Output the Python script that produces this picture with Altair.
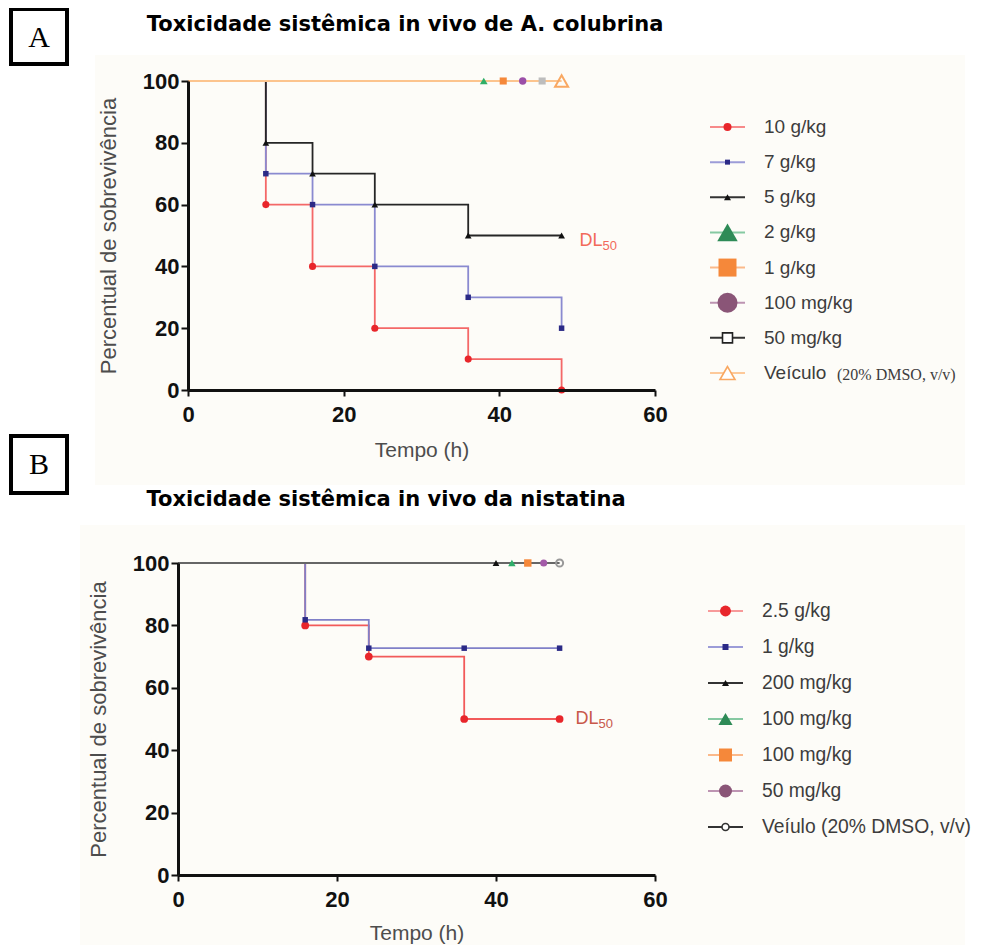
import altair as alt
import pandas as pd

# ---------------- data ----------------
A_TITLE = "Toxicidade sistêmica in vivo de A. colubrina"
A_LABELS = ["10 g/kg", "7 g/kg", "5 g/kg", "2 g/kg", "1 g/kg", "100 mg/kg", "50 mg/kg", "Veículo"]
A_LABEL_SUFFIX = "(20% DMSO, v/v)"
A_TIMES = [
    [0, 10, 16, 24, 36, 48],   # 10 g/kg
    [0, 10, 16, 24, 36, 48],   # 7 g/kg
    [0, 10, 16, 24, 36, 48],   # 5 g/kg
    [0, 38],                   # 2 g/kg
    [0, 40.5],                 # 1 g/kg
    [0, 43],                   # 100 mg/kg
    [0, 45.5],                 # 50 mg/kg
    [0, 48],                   # Veículo
]
A_SURV = [
    [100, 60, 40, 20, 10, 0],
    [100, 70, 60, 40, 30, 20],
    [100, 80, 70, 60, 50, 50],
    [100, 100],
    [100, 100],
    [100, 100],
    [100, 100],
    [100, 100],
]

B_TITLE = "Toxicidade sistêmica in vivo da nistatina"
B_LABELS = ["2.5 g/kg", "1 g/kg", "200 mg/kg", "100 mg/kg", "100 mg/kg", "50 mg/kg",
            "Veíulo (20% DMSO, v/v)"]
B_TIMES = [
    [0, 16, 24, 36, 48],       # 2.5 g/kg
    [0, 16, 24, 36, 48],       # 1 g/kg
    [0, 40],                   # 200 mg/kg
    [0, 42],                   # 100 mg/kg
    [0, 44],                   # 100 mg/kg
    [0, 46],                   # 50 mg/kg
    [0, 48],                   # Veículo
]
B_SURV = [
    [100, 80, 70, 50, 50],
    [100, 81.8, 72.7, 72.7, 72.7],
    [100, 100],
    [100, 100],
    [100, 100],
    [100, 100],
    [100, 100],
]

X_TICKS = [0, 20, 40, 60]
Y_TICKS = [0, 20, 40, 60, 80, 100]
DL50_T = 48
DL50_S = 50
PANEL_A = "A"
PANEL_B = "B"
X_TITLE = "Tempo (h)"
Y_TITLE = "Percentual de sobrevivência"

# ---------------- styles ----------------
W, H = 967, 939
SANS = "Liberation Sans"

A_STYLE = [
    dict(line="#f46868", mk="#e8262b", open=False, shape="circle", size=50,
         lline="#f78a8a", lmk="#e8262b", lopen=False, lsize=64),
    dict(line="#8a8ad0", mk="#2b2a86", open=False, shape="square", size=30,
         lline="#9c9cd8", lmk="#2b2a86", lopen=False, lsize=25),
    dict(line="#262626", mk="#111111", open=False, shape="triangle-up", size=45,
         lline="#333333", lmk="#111111", lopen=False, lsize=49),
    dict(line="#fcc48e", mk="#2fae66", open=False, shape="triangle-up", size=60,
         lline="#86c9a2", lmk="#2e8b57", lopen=False, lsize=420),
    dict(line="#fcc48e", mk="#f5883a", open=False, shape="square", size=50,
         lline="#fbb98a", lmk="#f5883a", lopen=False, lsize=324),
    dict(line="#fcc48e", mk="#9b4fa8", open=False, shape="circle", size=55,
         lline="#bd94b2", lmk="#8a5577", lopen=False, lsize=400),
    dict(line="#fcc48e", mk="#bdbdbd", open=False, shape="square", size=50,
         lline="#333333", lmk="#222222", lopen=True, lsize=100),
    dict(line="#fcc48e", mk="#f9a862", open=True, shape="triangle-up", size=170,
         lline="#fdc99a", lmk="#f9a862", lopen=True, lsize=225),
]

B_STYLE = [
    dict(line="#f25a5a", mk="#e8262b", open=False, shape="circle", size=60,
         lline="#f79a9a", lmk="#e8262b", lopen=False, lsize=120),
    dict(line="#8080c8", mk="#2b2a86", open=False, shape="square", size=30,
         lline="#9c9cd8", lmk="#2b2a86", lopen=False, lsize=36),
    dict(line="#666666", mk="#111111", open=False, shape="triangle-up", size=45,
         lline="#333333", lmk="#111111", lopen=False, lsize=49),
    dict(line="#666666", mk="#2fae6a", open=False, shape="triangle-up", size=55,
         lline="#86c9a2", lmk="#2e8b57", lopen=False, lsize=200),
    dict(line="#666666", mk="#f5883a", open=False, shape="square", size=55,
         lline="#fbb98a", lmk="#f5883a", lopen=False, lsize=169),
    dict(line="#666666", mk="#a35aa8", open=False, shape="circle", size=50,
         lline="#bd94b2", lmk="#8a5577", lopen=False, lsize=169),
    dict(line="#666666", mk="#999999", open=True, shape="circle", size=50,
         lline="#333333", lmk="#333333", lopen=True, lsize=49),
]


def x_axis(offset, title_pad):
    return alt.Axis(orient="bottom", offset=offset, values=X_TICKS, grid=False, zindex=2,
                    domainColor="#111", domainWidth=3, tickColor="#111", tickWidth=2,
                    tickSize=6, labelFont=SANS, labelFontSize=22, labelFontWeight="bold",
                    labelColor="#111", labelPadding=8, labelFlush=False,
                    title=X_TITLE, titleFont=SANS, titleFontSize=21, titleFontWeight="normal",
                    titleColor="#4d4d4d", titlePadding=title_pad)


def y_axis(offset):
    return alt.Axis(orient="left", offset=offset, values=Y_TICKS, grid=False, zindex=2,
                    domainColor="#111", domainWidth=3, tickColor="#111", tickWidth=2,
                    tickSize=7, labelFont=SANS, labelFontSize=22, labelFontWeight="bold",
                    labelColor="#111", labelPadding=2, labelFlush=False,
                    title=Y_TITLE, titleFont=SANS, titleFontSize=22, titleFontWeight="normal",
                    titleColor="#4d4d4d", titlePadding=22)


def panel(times, surv, styles, xr, yr, xoff, yoff, title_pad):
    xe = alt.X("t:Q", scale=alt.Scale(domain=[0, 60], range=xr), axis=x_axis(xoff, title_pad))
    ye = alt.Y("s:Q", scale=alt.Scale(domain=[0, 100], range=yr), axis=y_axis(yoff))
    lines, points = [], []
    for t, s, st in zip(times, surv, styles):
        df = pd.DataFrame({"t": t, "s": s})
        lines.append(alt.Chart(df).mark_line(interpolate="step-after", color=st["line"],
                                             strokeWidth=1.8).encode(x=xe, y=ye))
        points.append(alt.Chart(df.iloc[1:]).mark_point(
            shape=st["shape"], size=st["size"], filled=not st["open"], color=st["mk"],
            strokeWidth=2 if st["open"] else 1, opacity=1).encode(x=xe, y=ye))
    return lines, points, xe, ye


def legend(labels, styles, xr, yr, text_dx, font_size):
    n = len(labels)
    xe = alt.X("lx:Q", scale=alt.Scale(domain=[0, 1], range=xr), axis=None)
    x2e = alt.X2("lx2:Q")
    ye = alt.Y("row:Q", scale=alt.Scale(domain=[0, n - 1], range=yr), axis=None)
    out = []
    for i, (lab, st) in enumerate(zip(labels, styles)):
        df = pd.DataFrame({"row": [i], "lx": [0.0], "lx2": [1.0], "mx": [0.5], "label": [lab]})
        out.append(alt.Chart(df).mark_rule(color=st["lline"], strokeWidth=2).encode(
            x=xe, x2=x2e, y=ye))
        out.append(alt.Chart(df).mark_point(
            shape=st["shape"], size=st["lsize"], filled=not st["lopen"], color=st["lmk"],
            strokeWidth=1.6, opacity=1,
            fill="white" if st["lopen"] else st["lmk"]).encode(
            x=alt.X("mx:Q", scale=alt.Scale(domain=[0, 1], range=xr), axis=None), y=ye))
        out.append(alt.Chart(df).mark_text(align="left", baseline="middle", dx=text_dx,
                                           font=SANS, fontSize=font_size,
                                           color="#3d3d3d").encode(
            x=alt.X("lx2:Q", scale=alt.Scale(domain=[0, 1], range=xr), axis=None),
            y=ye, text="label:N"))
    return out, xe, ye


one = pd.DataFrame({"k": [0]})

# backgrounds
bgA = alt.Chart(one).mark_rect(fill="#fdfcf8", x=87, x2=957, y=47, y2=477)
bgB = alt.Chart(one).mark_rect(fill="#fdfcf8", x=72, x2=957, y=517, y2=937)

# ----- panel A -----
linesA, ptsA, xeA, yeA = panel(A_TIMES, A_SURV, A_STYLE, [180, 647], [382, 73], 382 - H, -180, 14)
dlA = pd.DataFrame({"t": [DL50_T], "s": [DL50_S]})
dlA1 = alt.Chart(dlA).mark_text(text="DL", align="left", baseline="middle", dx=18, dy=5,
                                font=SANS, fontSize=18, color="#f26a5a").encode(x=xeA, y=yeA)
dlA2 = alt.Chart(dlA).mark_text(text="50", align="left", baseline="middle", dx=41, dy=10,
                                font=SANS, fontSize=13, color="#f26a5a").encode(x=xeA, y=yeA)
panelA = alt.layer(*linesA, *ptsA, dlA1, dlA2)

legA, lxA, lyA = legend(A_LABELS, A_STYLE, [702, 737], [119, 365], 19, 19)
sufA = alt.Chart(pd.DataFrame({"row": [len(A_LABELS) - 1], "lx2": [1.0], "sfx": [A_LABEL_SUFFIX]})).mark_text(
    align="left", baseline="middle", dx=92, dy=2, font="Liberation Serif", fontSize=16,
    color="#3d3d3d").encode(
    x=alt.X("lx2:Q", scale=alt.Scale(domain=[0, 1], range=[702, 737]), axis=None),
    y=lyA, text="sfx:N")
legendA = alt.layer(*legA, sufA)

# ----- panel B -----
linesB, ptsB, xeB, yeB = panel(B_TIMES, B_SURV, B_STYLE, [170, 647], [867, 555], 867 - H, -170, 12)
dlB = pd.DataFrame({"t": [DL50_T], "s": [DL50_S]})
dlB1 = alt.Chart(dlB).mark_text(text="DL", align="left", baseline="middle", dx=16, dy=0,
                                font=SANS, fontSize=18, color="#c8584a").encode(x=xeB, y=yeB)
dlB2 = alt.Chart(dlB).mark_text(text="50", align="left", baseline="middle", dx=39, dy=5,
                                font=SANS, fontSize=13, color="#c8584a").encode(x=xeB, y=yeB)
panelB = alt.layer(*linesB, *ptsB, dlB1, dlB2)

legB, lxB, lyB = legend(B_LABELS, B_STYLE, [700, 735], [603, 819], 19, 19.3)
legendB = alt.layer(*legB)

# ----- panel labels and titles -----
boxA = alt.Chart(one).mark_rect(x=3, x2=59, y=1, y2=56, fill="white", stroke="#000", strokeWidth=4)
boxB = alt.Chart(one).mark_rect(x=3, x2=59, y=428, y2=485, fill="white", stroke="#000", strokeWidth=4)
labA = alt.Chart(one).mark_text(text=PANEL_A, x=31, y=30, font="Liberation Serif", fontSize=30,
                                color="#000", align="center", baseline="middle")
labB = alt.Chart(one).mark_text(text=PANEL_B, x=31, y=457, font="Liberation Serif", fontSize=30,
                                color="#000", align="center", baseline="middle")
titA = alt.Chart(one).mark_text(text=A_TITLE, x=397, y=17, font="DejaVu Sans", fontSize=21,
                                fontWeight="bold", color="#000", align="center", baseline="middle")
titB = alt.Chart(one).mark_text(text=B_TITLE, x=378, y=492, font="DejaVu Sans", fontSize=21,
                                fontWeight="bold", color="#000", align="center", baseline="middle")

chart = alt.layer(
    bgA, bgB, panelA, legendA, panelB, legendB, boxA, boxB, labA, labB, titA, titB
).resolve_scale(x="independent", y="independent").properties(
    width=W, height=H, padding=0, autosize=alt.AutoSizeParams(type="none"),
    background="white"
).configure_view(stroke=None)

chart.save("out.html", embed_options={"renderer": "svg", "actions": False})
